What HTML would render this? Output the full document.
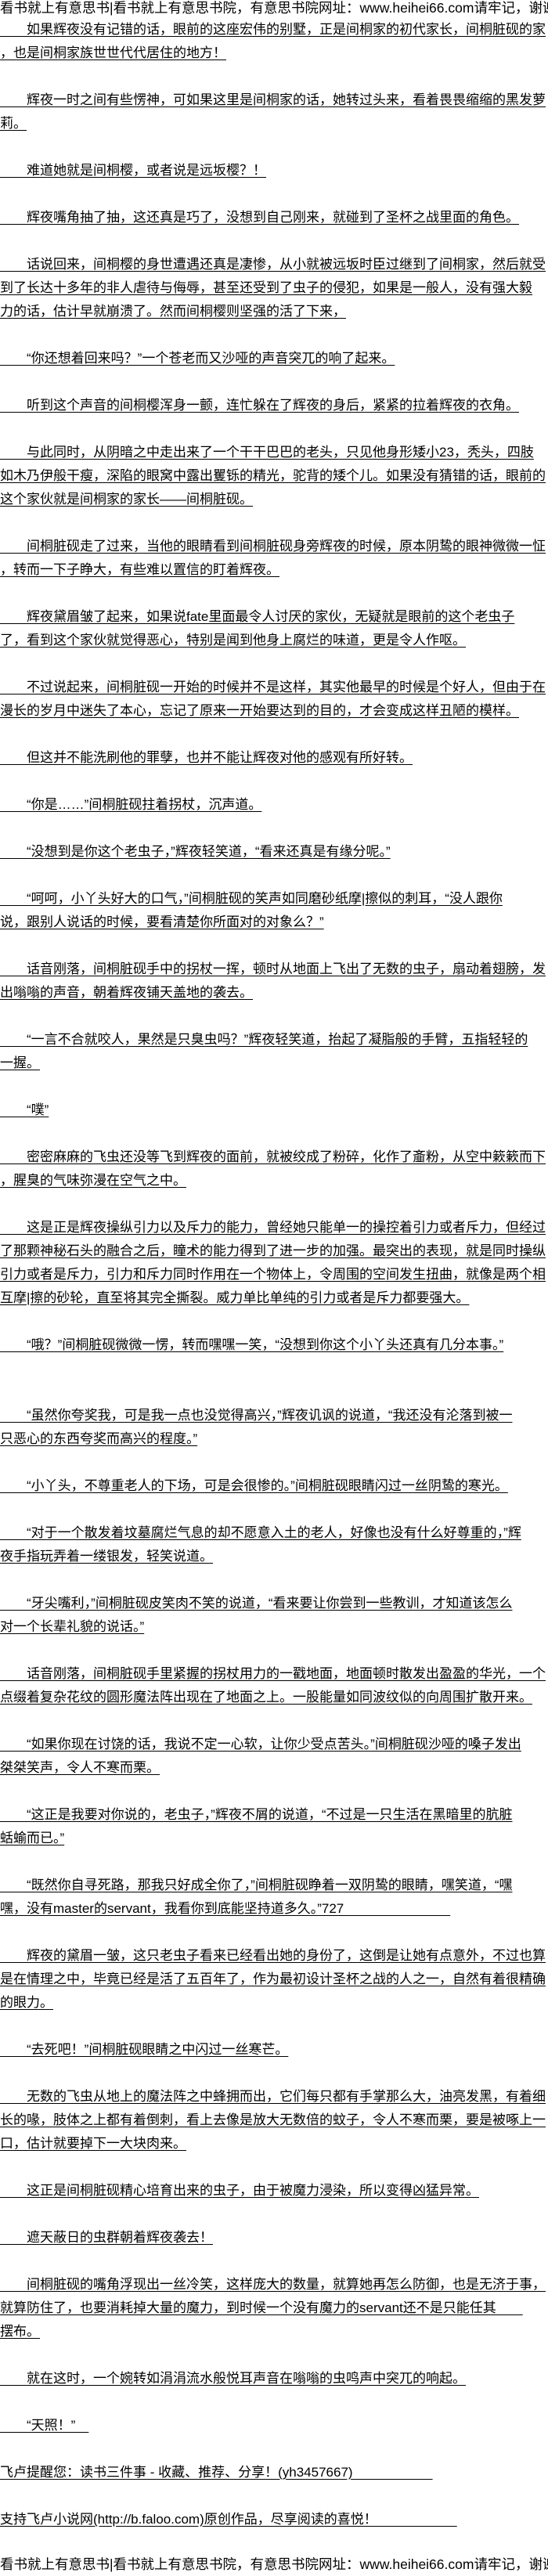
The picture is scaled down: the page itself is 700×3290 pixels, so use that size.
<!DOCTYPE html>
<html><head><meta charset="utf-8"><style>
html,body{margin:0;padding:0;background:#fff;}
body{width:700px;height:3290px;overflow:hidden;position:relative;font-family:"Liberation Sans","Noto Sans CJK SC",sans-serif;color:#000;}
.h{height:23px;line-height:20px;font-size:17.5px;white-space:pre;overflow:hidden;}
.c{font-size:17px;}
.l{height:30px;line-height:30px;white-space:pre;overflow:hidden;}
.l u{text-decoration:underline;text-underline-offset:3px;}
.p{margin-bottom:30px;}
.x{margin-bottom:60px;}
</style></head><body>
<div class="h">看书就上有意思书|看书就上有意思书院，有意思书院网址：www.heihei66.com请牢记，谢谢</div>
<div class="c">
<div class="p"><div class="l"><u>　　如果辉夜没有记错的话，眼前的这座宏伟的别墅，正是间桐家的初代家长，间桐脏砚的家</u></div><div class="l"><u>，也是间桐家族世世代代居住的地方！</u></div></div>
<div class="p"><div class="l"><u>　　辉夜一时之间有些愣神，可如果这里是间桐家的话，她转过头来，看着畏畏缩缩的黑发萝</u></div><div class="l"><u>莉。</u></div></div>
<div class="p"><div class="l"><u>　　难道她就是间桐樱，或者说是远坂樱？！</u></div></div>
<div class="p"><div class="l"><u>　　辉夜嘴角抽了抽，这还真是巧了，没想到自己刚来，就碰到了圣杯之战里面的角色。</u></div></div>
<div class="p"><div class="l"><u>　　话说回来，间桐樱的身世遭遇还真是凄惨，从小就被远坂时臣过继到了间桐家，然后就受</u></div><div class="l"><u>到了长达十多年的非人虐待与侮辱，甚至还受到了虫子的侵犯，如果是一般人，没有强大毅</u></div><div class="l"><u>力的话，估计早就崩溃了。然而间桐樱则坚强的活了下来，</u></div></div>
<div class="p"><div class="l"><u>　　“你还想着回来吗？”一个苍老而又沙哑的声音突兀的响了起来。</u></div></div>
<div class="p"><div class="l"><u>　　听到这个声音的间桐樱浑身一颤，连忙躲在了辉夜的身后，紧紧的拉着辉夜的衣角。</u></div></div>
<div class="p"><div class="l"><u>　　与此同时，从阴暗之中走出来了一个干干巴巴的老头，只见他身形矮小23，秃头，四肢</u></div><div class="l"><u>如木乃伊般干瘦，深陷的眼窝中露出矍铄的精光，驼背的矮个儿。如果没有猜错的话，眼前的</u></div><div class="l"><u>这个家伙就是间桐家的家长——间桐脏砚。</u></div></div>
<div class="p"><div class="l"><u>　　间桐脏砚走了过来，当他的眼睛看到间桐脏砚身旁辉夜的时候，原本阴鸷的眼神微微一怔</u></div><div class="l"><u>，转而一下子睁大，有些难以置信的盯着辉夜。</u></div></div>
<div class="p"><div class="l"><u>　　辉夜黛眉皱了起来，如果说fate里面最令人讨厌的家伙，无疑就是眼前的这个老虫子</u></div><div class="l"><u>了，看到这个家伙就觉得恶心，特别是闻到他身上腐烂的味道，更是令人作呕。</u></div></div>
<div class="p"><div class="l"><u>　　不过说起来，间桐脏砚一开始的时候并不是这样，其实他最早的时候是个好人，但由于在</u></div><div class="l"><u>漫长的岁月中迷失了本心，忘记了原来一开始要达到的目的，才会变成这样丑陋的模样。</u></div></div>
<div class="p"><div class="l"><u>　　但这并不能洗刷他的罪孽，也并不能让辉夜对他的感观有所好转。</u></div></div>
<div class="p"><div class="l"><u>　　“你是……”间桐脏砚拄着拐杖，沉声道。</u></div></div>
<div class="p"><div class="l"><u>　　“没想到是你这个老虫子，”辉夜轻笑道，“看来还真是有缘分呢。”</u></div></div>
<div class="p"><div class="l"><u>　　“呵呵，小丫头好大的口气，”间桐脏砚的笑声如同磨砂纸摩|擦似的刺耳，“没人跟你</u></div><div class="l"><u>说，跟别人说话的时候，要看清楚你所面对的对象么？”</u></div></div>
<div class="p"><div class="l"><u>　　话音刚落，间桐脏砚手中的拐杖一挥，顿时从地面上飞出了无数的虫子，扇动着翅膀，发</u></div><div class="l"><u>出嗡嗡的声音，朝着辉夜铺天盖地的袭去。</u></div></div>
<div class="p"><div class="l"><u>　　“一言不合就咬人，果然是只臭虫吗？”辉夜轻笑道，抬起了凝脂般的手臂，五指轻轻的</u></div><div class="l"><u>一握。</u></div></div>
<div class="p"><div class="l"><u>　　“噗”</u></div></div>
<div class="p"><div class="l"><u>　　密密麻麻的飞虫还没等飞到辉夜的面前，就被绞成了粉碎，化作了齑粉，从空中簌簌而下</u></div><div class="l"><u>，腥臭的气味弥漫在空气之中。</u></div></div>
<div class="p"><div class="l"><u>　　这是正是辉夜操纵引力以及斥力的能力，曾经她只能单一的操控着引力或者斥力，但经过</u></div><div class="l"><u>了那颗神秘石头的融合之后，瞳术的能力得到了进一步的加强。最突出的表现，就是同时操纵</u></div><div class="l"><u>引力或者是斥力，引力和斥力同时作用在一个物体上，令周围的空间发生扭曲，就像是两个相</u></div><div class="l"><u>互摩|擦的砂轮，直至将其完全撕裂。威力单比单纯的引力或者是斥力都要强大。</u></div></div>
<div class="x"><div class="l"><u>　　“哦？”间桐脏砚微微一愣，转而嘿嘿一笑，“没想到你这个小丫头还真有几分本事。”</u></div></div>
<div class="p"><div class="l"><u>　　“虽然你夸奖我，可是我一点也没觉得高兴，”辉夜讥讽的说道，“我还没有沦落到被一</u></div><div class="l"><u>只恶心的东西夸奖而高兴的程度。”</u></div></div>
<div class="p"><div class="l"><u>　　“小丫头，不尊重老人的下场，可是会很惨的。”间桐脏砚眼睛闪过一丝阴鸷的寒光。</u></div></div>
<div class="p"><div class="l"><u>　　“对于一个散发着坟墓腐烂气息的却不愿意入土的老人，好像也没有什么好尊重的，”辉</u></div><div class="l"><u>夜手指玩弄着一缕银发，轻笑说道。</u></div></div>
<div class="p"><div class="l"><u>　　“牙尖嘴利，”间桐脏砚皮笑肉不笑的说道，“看来要让你尝到一些教训，才知道该怎么</u></div><div class="l"><u>对一个长辈礼貌的说话。”</u></div></div>
<div class="p"><div class="l"><u>　　话音刚落，间桐脏砚手里紧握的拐杖用力的一戳地面，地面顿时散发出盈盈的华光，一个</u></div><div class="l"><u>点缀着复杂花纹的圆形魔法阵出现在了地面之上。一股能量如同波纹似的向周围扩散开来。</u></div></div>
<div class="p"><div class="l"><u>　　“如果你现在讨饶的话，我说不定一心软，让你少受点苦头。”间桐脏砚沙哑的嗓子发出</u></div><div class="l"><u>桀桀笑声，令人不寒而栗。</u></div></div>
<div class="p"><div class="l"><u>　　“这正是我要对你说的，老虫子，”辉夜不屑的说道，“不过是一只生活在黑暗里的肮脏</u></div><div class="l"><u>蛞蝓而已。”</u></div></div>
<div class="p"><div class="l"><u>　　“既然你自寻死路，那我只好成全你了，”间桐脏砚睁着一双阴鸷的眼睛，嘿笑道，“嘿</u></div><div class="l"><u>嘿，没有master的servant，我看你到底能坚持道多久。”727　　　　　　　　</u></div></div>
<div class="p"><div class="l"><u>　　辉夜的黛眉一皱，这只老虫子看来已经看出她的身份了，这倒是让她有点意外，不过也算</u></div><div class="l"><u>是在情理之中，毕竟已经是活了五百年了，作为最初设计圣杯之战的人之一，自然有着很精确</u></div><div class="l"><u>的眼力。</u></div></div>
<div class="p"><div class="l"><u>　　“去死吧！”间桐脏砚眼睛之中闪过一丝寒芒。</u></div></div>
<div class="p"><div class="l"><u>　　无数的飞虫从地上的魔法阵之中蜂拥而出，它们每只都有手掌那么大，油亮发黑，有着细</u></div><div class="l"><u>长的喙，肢体之上都有着倒刺，看上去像是放大无数倍的蚊子，令人不寒而栗，要是被啄上一</u></div><div class="l"><u>口，估计就要掉下一大块肉来。</u></div></div>
<div class="p"><div class="l"><u>　　这正是间桐脏砚精心培育出来的虫子，由于被魔力浸染，所以变得凶猛异常。</u></div></div>
<div class="p"><div class="l"><u>　　遮天蔽日的虫群朝着辉夜袭去！</u></div></div>
<div class="p"><div class="l"><u>　　间桐脏砚的嘴角浮现出一丝冷笑，这样庞大的数量，就算她再怎么防御，也是无济于事，</u></div><div class="l"><u>就算防住了，也要消耗掉大量的魔力，到时候一个没有魔力的servant还不是只能任其　　</u></div><div class="l"><u>摆布。</u></div></div>
<div class="p"><div class="l"><u>　　就在这时，一个婉转如涓涓流水般悦耳声音在嗡嗡的虫鸣声中突兀的响起。</u></div></div>
<div class="p"><div class="l"><u>　　“天照！”　</u></div></div>
<div class="p"><div class="l"><u>飞卢提醒您：读书三件事 - 收藏、推荐、分享！(yh3457667)　　　　　　</u></div></div>
<div class="p"><div class="l"><u>支持飞卢小说网(http://b.faloo.com)原创作品，尽享阅读的喜悦！　　　　　　</u></div></div>
</div>
<div class="h" style="position:absolute;left:0;top:3265px;height:25px;">看书就上有意思书|看书就上有意思书院，有意思书院网址：www.heihei66.com请牢记，谢谢</div>
</body></html>
